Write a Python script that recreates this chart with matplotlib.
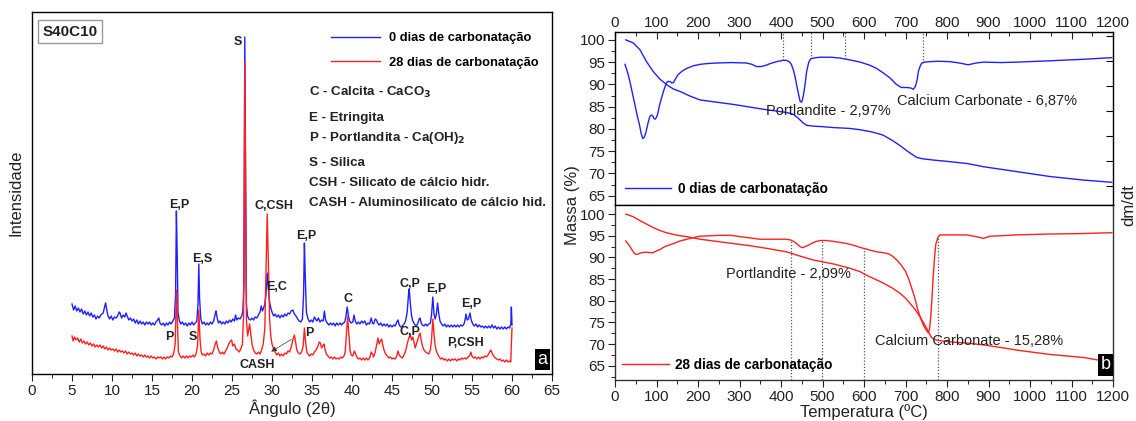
import matplotlib
matplotlib.use('Agg')
import matplotlib.pyplot as plt
from matplotlib.ticker import MultipleLocator
import numpy as np

plt.rcParams['font.family'] = ['Liberation Sans', 'DejaVu Sans']

# ---------------- XRD data (2theta, intensity a.u.) ----------------
xrd_0d = [(5.0,70),(5.2,64),(5.4,68),(5.6,63),(5.8,66),(6.0,62),(6.2,65),(6.4,60),(6.6,63),(6.8,59),
(7.0,62),(7.2,58),(7.4,61),(7.6,57),(7.8,59),(8.0,55),(8.2,58),(8.4,56),(8.6,59),(8.9,61),(9.1,68),(9.2,71),
(9.35,64),(9.5,58),(9.7,55),(9.9,58),(10.1,54),(10.3,57),(10.5,56),(10.7,58),(10.9,62),(11.0,61),(11.2,56),
(11.4,59),(11.6,57),(11.75,61),(11.9,58),(12.1,54),(12.3,56),(12.5,53),(12.7,55),(12.9,51),(13.1,54),(13.3,50),
(13.5,53),(13.7,50),(13.9,52),(14.1,49),(14.3,52),(14.5,50),(14.7,52),(14.9,49),(15.1,51),(15.3,49),(15.5,52),
(15.7,54),(15.85,56),(16.0,51),(16.2,49),(16.4,51),(16.6,48),(16.8,51),(17.0,49),(17.2,52),(17.4,50),(17.6,53),
(17.8,56),(17.95,80),(18.05,163),(18.15,120),(18.25,62),(18.4,54),(18.6,50),(18.8,52),(19.0,49),(19.2,51),
(19.4,48),(19.6,51),(19.8,49),(20.0,52),(20.2,49),(20.4,51),(20.6,53),(20.75,70),(20.85,110),(20.95,75),
(21.1,55),(21.3,50),(21.5,52),(21.7,49),(21.9,51),(22.1,49),(22.3,52),(22.5,50),(22.7,53),(22.9,60),(23.0,63),
(23.15,56),(23.3,51),(23.5,53),(23.7,50),(23.9,52),(24.1,50),(24.3,53),(24.5,51),(24.7,54),(24.9,52),(25.1,55),
(25.3,53),(25.45,59),(25.6,54),(25.8,56),(26.0,55),(26.2,58),(26.35,62),(26.5,90),(26.6,337),(26.7,200),
(26.8,70),(26.95,58),(27.1,55),(27.3,54),(27.5,56),(27.7,54),(27.9,57),(28.1,56),(28.3,59),(28.5,62),(28.65,68),
(28.8,63),(28.95,66),(29.1,70),(29.25,80),(29.4,101),(29.55,85),(29.7,72),(29.85,66),(30.0,62),(30.2,58),
(30.4,60),(30.6,57),(30.8,59),(31.0,56),(31.2,59),(31.4,57),(31.6,60),(31.8,58),(32.0,61),(32.2,60),(32.4,63),
(32.6,64),(32.8,60),(33.0,58),(33.2,55),(33.4,53),(33.6,52),(33.8,55),(33.95,80),(34.05,131),(34.15,100),
(34.3,62),(34.5,55),(34.7,52),(34.9,54),(35.1,52),(35.3,57),(35.45,55),(35.6,53),(35.8,56),(36.0,52),(36.2,54),
(36.4,53),(36.55,63),(36.7,54),(36.9,51),(37.1,49),(37.3,51),(37.5,49),(37.7,51),(37.9,48),(38.1,51),(38.3,49),
(38.5,51),(38.7,49),(38.9,51),(39.1,52),(39.25,58),(39.4,67),(39.55,58),(39.7,53),(39.9,51),(40.1,52),(40.25,59),
(40.4,53),(40.6,50),(40.8,52),(41.0,50),(41.2,53),(41.4,51),(41.6,53),(41.8,49),(42.0,51),(42.2,50),(42.4,56),
(42.55,51),(42.7,50),(42.9,55),(43.05,54),(43.2,51),(43.4,49),(43.6,51),(43.8,48),(44.0,50),(44.2,48),(44.4,50),
(44.6,47),(44.8,49),(45.0,47),(45.2,49),(45.4,48),(45.6,52),(45.75,54),(45.9,49),(46.1,47),(46.3,48),(46.5,50),
(46.7,53),(46.9,62),(47.05,78),(47.15,85),(47.3,70),(47.45,58),(47.6,53),(47.8,50),(48.0,48),(48.2,50),(48.4,55),
(48.5,56),(48.65,51),(48.8,49),(49.0,48),(49.2,50),(49.4,48),(49.6,50),(49.8,51),(49.95,60),(50.1,77),(50.25,60),
(50.4,55),(50.55,60),(50.7,71),(50.85,60),(51.0,53),(51.2,50),(51.4,48),(51.6,50),(51.8,47),(52.0,49),(52.2,47),
(52.4,49),(52.6,47),(52.8,49),(53.0,47),(53.2,49),(53.4,47),(53.6,49),(53.8,48),(54.0,50),(54.15,55),(54.25,60),
(54.4,54),(54.55,55),(54.75,61),(54.9,54),(55.1,50),(55.3,48),(55.5,50),(55.7,47),(55.9,49),(56.1,47),(56.3,48),
(56.5,46),(56.7,48),(56.9,46),(57.1,48),(57.3,46),(57.5,49),(57.7,46),(57.9,48),(58.1,45),(58.3,47),(58.5,45),
(58.7,47),(58.9,45),(59.1,47),(59.3,45),(59.5,47),(59.7,46),(59.85,50),(59.92,67),(60.0,49)]

xrd_28d = [(5.0,38),(5.15,33),(5.3,37),(5.5,34),(5.7,36),(5.9,32),(6.1,35),(6.3,31),(6.5,33),(6.7,30),(6.9,32),
(7.1,29),(7.3,31),(7.5,28),(7.7,30),(7.9,27),(8.1,29),(8.3,27),(8.5,29),(8.7,26),(8.9,28),(9.1,25),(9.3,27),
(9.5,24),(9.7,26),(9.9,24),(10.1,25),(10.3,23),(10.5,25),(10.7,22),(10.9,24),(11.1,22),(11.3,23),(11.5,21),
(11.7,23),(11.9,20),(12.1,22),(12.3,20),(12.5,21),(12.7,19),(12.9,21),(13.1,18),(13.3,20),(13.5,18),(13.7,19),
(13.9,17),(14.1,19),(14.3,17),(14.5,18),(14.7,16),(14.9,18),(15.1,16),(15.3,17),(15.5,15),(15.7,17),(15.9,16),
(16.1,17),(16.3,15),(16.5,17),(16.7,15),(16.9,17),(17.1,16),(17.3,18),(17.5,17),(17.7,20),(17.9,30),(18.05,84),
(18.15,60),(18.3,22),(18.5,18),(18.7,16),(18.9,18),(19.1,16),(19.3,18),(19.5,16),(19.7,18),(19.9,17),(20.1,19),
(20.3,17),(20.5,20),(20.7,28),(20.85,64),(21.0,35),(21.15,22),(21.3,19),(21.5,20),(21.7,18),(21.9,21),(22.1,19),
(22.3,21),(22.5,20),(22.7,24),(22.9,30),(23.05,33),(23.2,27),(23.4,22),(23.6,20),(23.8,22),(24.0,20),(24.2,23),
(24.4,26),(24.6,30),(24.8,33),(24.95,34),(25.1,28),(25.3,30),(25.5,25),(25.7,24),(25.9,22),(26.1,25),(26.3,30),
(26.45,60),(26.6,312),(26.7,180),(26.8,55),(26.95,38),(27.1,45),(27.2,50),(27.35,40),(27.5,30),(27.7,24),
(27.9,21),(28.1,20),(28.3,22),(28.5,20),(28.7,24),(28.9,30),(29.1,45),(29.25,100),(29.4,160),(29.55,110),
(29.7,55),(29.85,38),(30.0,30),(30.2,25),(30.4,22),(30.6,19),(30.8,21),(31.0,18),(31.2,20),(31.4,18),(31.6,21),
(31.8,20),(32.0,23),(32.2,22),(32.4,27),(32.6,34),(32.8,39),(32.95,32),(33.1,24),(33.3,21),(33.5,20),(33.7,22),
(33.9,28),(34.05,46),(34.2,32),(34.35,22),(34.5,20),(34.7,18),(34.9,20),(35.1,19),(35.3,22),(35.5,24),(35.7,27),
(35.9,32),(36.05,31),(36.2,26),(36.4,29),(36.5,30),(36.65,24),(36.8,20),(37.0,18),(37.2,16),(37.4,17),(37.6,15),
(37.8,17),(38.0,15),(38.2,16),(38.4,15),(38.6,17),(38.8,16),(39.0,18),(39.15,22),(39.3,40),(39.45,57),(39.6,40),
(39.75,24),(39.9,19),(40.1,18),(40.3,23),(40.45,20),(40.6,17),(40.8,15),(41.0,16),(41.2,14),(41.4,16),(41.6,14),
(41.8,16),(42.0,14),(42.2,16),(42.4,22),(42.55,20),(42.7,17),(42.9,22),(43.1,30),(43.25,36),(43.4,30),(43.55,33),
(43.7,35),(43.85,29),(44.0,24),(44.2,20),(44.4,18),(44.6,16),(44.8,17),(45.0,15),(45.2,16),(45.4,15),(45.6,18),
(45.75,23),(45.9,19),(46.1,17),(46.3,16),(46.5,19),(46.7,23),(46.9,30),(47.1,36),(47.3,39),(47.45,34),(47.6,37),
(47.75,32),(47.9,26),(48.05,30),(48.2,34),(48.35,38),(48.5,41),(48.65,34),(48.8,28),(49.0,24),(49.2,22),(49.4,21),
(49.6,20),(49.8,24),(49.95,35),(50.1,55),(50.25,40),(50.4,28),(50.55,23),(50.7,20),(50.9,17),(51.1,15),(51.3,16),
(51.5,14),(51.7,15),(51.9,13),(52.1,15),(52.3,13),(52.5,15),(52.7,14),(52.9,15),(53.1,13),(53.3,15),(53.5,14),
(53.7,16),(53.9,15),(54.1,16),(54.3,15),(54.5,17),(54.7,18),(54.85,22),(55.0,18),(55.2,16),(55.4,17),(55.6,15),
(55.8,17),(56.0,15),(56.2,17),(56.4,16),(56.6,18),(56.8,17),(57.0,19),(57.2,22),(57.35,24),(57.5,21),(57.7,18),
(57.9,16),(58.1,15),(58.3,14),(58.5,15),(58.7,13),(58.9,14),(59.1,12),(59.3,14),(59.5,12),(59.7,13),(59.85,12),
(59.92,30),(60.0,46)]

xrd_labels = ["0 dias de carbonatação", "28 dias de carbonatação"]
phase_legend = ["C - Calcita - CaCO$_\\mathbf{3}$", "E - Etringita", "P - Portlandita - Ca(OH)$_\\mathbf{2}$",
                "S - Silica", "CSH - Silicato de cálcio hidr.", "CASH - Aluminosilicato de cálcio hid."]
peak_labels = [("S", 25.75, 332), ("E,P", 18.4, 169), ("E,S", 21.3, 115), ("C,CSH", 30.2, 168),
               ("E,C", 30.6, 87), ("E,P", 34.25, 138), ("C", 39.5, 75), ("C,P", 47.25, 90),
               ("E,P", 50.5, 85), ("E,P", 54.95, 70), ("P", 17.2, 37), ("S", 20.1, 37),
               ("P", 34.7, 41), ("C,P", 47.2, 42), ("P,CSH", 54.25, 31)]

# ---------------- TGA data (temperature C, mass %) ----------------
tg_0d_T = [26, 44, 60, 76, 92, 108, 125, 140, 157, 180, 205, 245, 285, 325, 365, 413, 429, 438, 446, 454, 462,
           480, 500, 526, 566, 591, 620, 646, 670, 686, 706, 727, 740, 767, 800, 850, 888, 968, 1048, 1129, 1197]
tg_0d_m = [100.0, 99.3, 97.8, 95.1, 92.9, 91.2, 89.9, 89.0, 88.4, 87.4, 86.5, 86.0, 85.5, 84.9, 84.3, 83.7, 83.3,
           82.7, 82.0, 81.3, 80.8, 80.6, 80.5, 80.3, 80.1, 79.8, 79.3, 78.6, 77.3, 76.3, 74.9, 73.6, 73.3, 73.0,
           72.7, 72.2, 71.5, 70.4, 69.3, 68.5, 68.0]
dtg_0d_T = [24, 30, 36, 42, 48, 54, 59, 63, 67, 71, 75, 80, 84, 88, 91, 94, 97, 100, 103, 107, 112, 118, 124,
            128, 133, 137, 141, 146, 152, 162, 173, 190, 205, 225, 245, 280, 317, 330, 341, 351, 361, 375, 389,
            405, 413, 420, 425, 430, 435, 440, 446, 450, 454, 458, 462, 467, 472, 485, 495, 520, 543, 566, 591,
            614, 630, 646, 662, 678, 690, 703, 712, 719, 724, 728, 731, 735, 739, 745, 759, 780, 807, 830, 851,
            870, 888, 930, 968, 1048, 1120, 1197]
dtg_0d_m = [94.5, 92.8, 90.6, 88.0, 85.4, 82.8, 80.9, 79.0, 77.8, 78.2, 79.4, 81.5, 82.8, 83.1, 82.9, 82.3, 82.2,
            82.6, 83.4, 85.2, 86.9, 88.8, 90.3, 90.7, 90.6, 90.3, 90.4, 91.3, 92.2, 93.0, 93.6, 94.2, 94.5, 94.7,
            94.8, 94.9, 94.8, 94.5, 94.0, 94.0, 94.2, 94.7, 95.1, 95.4, 95.4, 95.1, 94.5, 93.2, 91.2, 88.8, 86.2,
            86.0, 87.5, 90.0, 93.0, 95.0, 95.8, 96.0, 96.1, 96.1, 95.9, 95.5, 95.0, 94.3, 93.6, 92.6, 91.5, 90.0,
            89.3, 89.3, 89.2, 88.9, 89.6, 91.0, 92.9, 94.0, 94.8, 95.0, 95.1, 95.2, 95.1, 94.8, 94.4, 94.8, 95.0,
            94.9, 95.0, 95.3, 95.6, 96.0]

tg_28d_T = [26, 44, 60, 76, 92, 108, 124, 141, 157, 173, 205, 245, 285, 325, 365, 413, 446, 478, 526, 566, 591,
            606, 626, 646, 667, 687, 700, 711, 723, 735, 743, 751, 757, 763, 769, 775, 790, 807, 850, 888, 930,
            968, 1048, 1129, 1165, 1200]
tg_28d_m = [100.0, 99.4, 98.5, 97.7, 96.9, 96.2, 95.7, 95.3, 95.0, 94.8, 94.2, 93.7, 93.2, 92.7, 92.1, 91.3, 90.3,
            89.4, 88.5, 87.5, 86.7, 85.9, 85.0, 84.1, 83.0, 81.7, 80.6, 79.4, 78.0, 76.3, 75.0, 73.6, 72.5, 71.5,
            71.1, 70.9, 70.7, 70.5, 70.2, 69.8, 69.2, 68.6, 67.6, 66.9, 66.3, 66.0]
dtg_28d_T = [26, 31, 36, 42, 47, 51, 56, 64, 75, 85, 92, 100, 108, 120, 141, 157, 173, 190, 205, 230, 253, 280,
             301, 325, 349, 375, 397, 413, 424, 432, 440, 446, 450, 454, 458, 466, 475, 485, 495, 510, 526, 540,
             559, 575, 591, 614, 630, 646, 660, 670, 680, 690, 700, 707, 714, 722, 730, 737, 744, 750, 755, 758,
             761, 764, 767, 770, 773, 778, 783, 800, 830, 847, 870, 888, 904, 930, 968, 1048, 1120, 1197]
dtg_28d_m = [93.8, 93.2, 92.5, 91.6, 90.9, 90.7, 90.8, 91.1, 91.2, 91.1, 91.1, 91.5, 91.8, 92.5, 93.2, 93.8, 94.2,
             94.6, 94.9, 95.0, 95.1, 95.1, 94.8, 94.5, 94.2, 94.2, 94.2, 94.2, 94.0, 93.6, 93.0, 92.5, 92.3, 92.3,
             92.5, 92.8, 93.3, 93.7, 93.9, 93.9, 93.7, 93.5, 93.2, 92.8, 92.3, 91.7, 91.3, 91.1, 90.8, 90.2, 89.3,
             88.2, 86.8, 85.2, 83.2, 80.8, 77.8, 75.8, 74.2, 73.2, 72.6, 73.5, 76.5, 81.0, 86.0, 90.0, 93.0, 94.6,
             95.2, 95.2, 95.2, 95.2, 94.8, 94.4, 94.9, 95.0, 95.2, 95.4, 95.5, 95.7]

limits_0d = [405, 472, 554, 741]
limits_28d = [423, 498, 600, 779]
tga_labels = ["0 dias de carbonatação", "28 dias de carbonatação"]
tga_notes_0d = [("Portlandite - 2,97%", 365, 84.0), ("Calcium Carbonate - 6,87%", 679, 86.3)]
tga_notes_28d = [("Portlandite - 2,09%", 267, 86.2), ("Calcium Carbonate - 15,28%", 626, 70.8)]

BLUE = '#2020ff'
RED = '#ff2020'
TXT = '#222222'
W, H = 1136, 421


def rect(x0, y0, x1, y1):
    return [x0 / W, 1 - y1 / H, (x1 - x0) / W, (y1 - y0) / H]


fig = plt.figure(figsize=(W / 100, H / 100), dpi=100)

# ================= Panel a: XRD =================
axA = fig.add_axes(rect(32, 12, 552, 374))
t0, i0 = zip(*xrd_0d)
t28, i28 = zip(*xrd_28d)
lA0, = axA.plot(t0, i0, color=BLUE, lw=1.0)
lA28, = axA.plot(t28, i28, color=RED, lw=1.0)
axA.set_xlim(0, 65)
axA.set_ylim(0, 362)
axA.set_yticks([])
axA.xaxis.set_major_locator(MultipleLocator(5))
axA.xaxis.set_minor_locator(MultipleLocator(2.5))
axA.tick_params(axis='x', which='major', direction='out', length=5, labelsize=11, colors=TXT, pad=2.5)
axA.tick_params(axis='x', which='minor', direction='out', length=3)
axA.set_xlabel("Ângulo (2θ)", fontsize=12, color=TXT, labelpad=1)
axA.set_ylabel("Intensidade", fontsize=12, color=TXT, labelpad=6)
for sp in axA.spines.values():
    sp.set_linewidth(1.0)

axA.legend([lA0, lA28], xrd_labels, loc='upper right', bbox_to_anchor=(1.0, 0.98), frameon=False,
           prop={'weight': 'bold', 'size': 9.3}, handlelength=3.8, handletextpad=0.7, labelspacing=0.95,
           borderaxespad=0.6)

phase_y = [0.779, 0.707, 0.652, 0.583, 0.528, 0.472]
for txt, yy in zip(phase_legend, phase_y):
    axA.text(0.533, yy, txt, transform=axA.transAxes, fontsize=9.6, fontweight='bold', color=TXT,
             va='center', ha='left')

for txt, x, y in peak_labels:
    axA.text(x, y, txt, fontsize=9, fontweight='bold', color=TXT, ha='center', va='center')

axA.annotate('', xy=(29.6, 21), xytext=(32.7, 36),
             arrowprops=dict(arrowstyle='-|>', lw=0.5, color='#333333', mutation_scale=8))
axA.text(28.1, 9, "CASH", fontsize=9, fontweight='bold', color=TXT, ha='center', va='center')

axA.text(0.073, 0.946, "S40C10", transform=axA.transAxes, fontsize=11, fontweight='bold', color=TXT,
         ha='center', va='center',
         bbox=dict(facecolor='white', edgecolor='#999999', boxstyle='square,pad=0.28', lw=1))
axA.text(0.982, 0.04, "a", transform=axA.transAxes, fontsize=13, color='white', ha='center', va='center',
         bbox=dict(facecolor='black', edgecolor='none', boxstyle='square,pad=0.12'))

# ================= Panel b: TGA =================
axU = fig.add_axes(rect(615, 32.3, 1113, 205))
axL = fig.add_axes(rect(615, 205, 1113, 380))

for ax, ylim in ((axU, (62.9, 101.7)), (axL, (61.7, 102.1))):
    ax.set_xlim(0, 1200)
    ax.set_ylim(*ylim)
    ax.xaxis.set_major_locator(MultipleLocator(100))
    ax.xaxis.set_minor_locator(MultipleLocator(50))
    ax.yaxis.set_major_locator(MultipleLocator(5))
    ax.yaxis.set_minor_locator(MultipleLocator(2.5))
    ax.tick_params(axis='both', which='major', direction='out', length=5, labelsize=11, colors=TXT, pad=2)
    ax.tick_params(axis='both', which='minor', direction='out', length=3)
    for sp in ax.spines.values():
        sp.set_linewidth(1.0)
        sp.set_color('#333333')

axU.tick_params(axis='x', which='both', bottom=False, labelbottom=False, top=True, labeltop=True,
                direction='in')
axL.tick_params(axis='x', which='both', top=False)

lU, = axU.plot(tg_0d_T, tg_0d_m, color=BLUE, lw=1.0)
axU.plot(dtg_0d_T, dtg_0d_m, color=BLUE, lw=1.0)
lL, = axL.plot(tg_28d_T, tg_28d_m, color=RED, lw=1.0)
axL.plot(dtg_28d_T, dtg_28d_m, color=RED, lw=1.0)

# right dm/dt axis (upper panel ticks only)
axU2 = axU.twinx()
axU2.set_ylim(axU.get_ylim())
axU2.yaxis.set_major_locator(MultipleLocator(5.6))
axU2.tick_params(axis='y', direction='in', length=5, labelright=False)

# integration limits
top_u = axU.get_ylim()[1]
for T in limits_0d:
    axU.vlines(T, np.interp(T, dtg_0d_T, dtg_0d_m), top_u, colors='#555555', linestyles=(0, (1, 1.5)), lw=0.9)
bot_l = axL.get_ylim()[0]
for T in limits_28d:
    axL.vlines(T, bot_l, np.interp(T, dtg_28d_T, dtg_28d_m), colors='#555555', linestyles=(0, (1, 1.5)), lw=0.9)

for txt, x, y in tga_notes_0d:
    axU.text(x, y, txt, fontsize=10.5, color=TXT, ha='left', va='center')
for txt, x, y in tga_notes_28d:
    axL.text(x, y, txt, fontsize=10.5, color=TXT, ha='left', va='center')

axU.legend([lU], [tga_labels[0]], loc='lower left', bbox_to_anchor=(-0.005, -0.02), frameon=False,
           prop={'weight': 'bold', 'size': 9.8}, handlelength=3.4, handletextpad=0.5)
axL.legend([lL], [tga_labels[1]], loc='lower left', bbox_to_anchor=(-0.01, -0.025), frameon=False,
           prop={'weight': 'bold', 'size': 9.8}, handlelength=3.4, handletextpad=0.5)

axL.text(0.985, 0.086, "b", transform=axL.transAxes, fontsize=13, color='white', ha='center', va='center',
         bbox=dict(facecolor='black', edgecolor='none', boxstyle='square,pad=0.12'))

axL.set_xlabel("Temperatura (ºC)", fontsize=12, color=TXT, labelpad=0)
fig.text(573 / W, 1 - 205 / H, "Massa (%)", rotation=90, fontsize=12, color=TXT, ha='center', va='center')
fig.text(1129 / W, 1 - 205 / H, "dm/dt", rotation=90, fontsize=12, color=TXT, ha='center', va='center')

fig.savefig("out.png", dpi=100)
